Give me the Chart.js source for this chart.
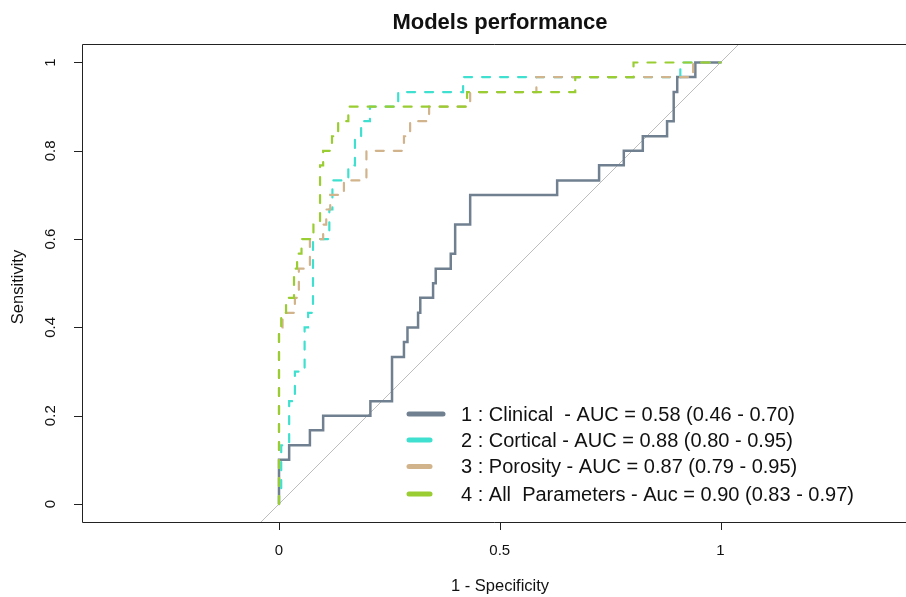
<!DOCTYPE html>
<html>
<head>
<meta charset="utf-8">
<title>Models performance</title>
<script src="https://cdn.jsdelivr.net/npm/chart.js@4.4.1/dist/chart.umd.min.js"></script>
<style>
  html, body { margin: 0; padding: 0; background: #fff; }
  #roc { display: block; }
</style>
</head>
<body>
<canvas id="roc" width="906" height="597"></canvas>
<script>
// ROC corner points (1 - specificity, sensitivity) for each model
const clinicalFpr = [0, 0, 0.023, 0.070, 0.100, 0.207, 0.256, 0.283, 0.291, 0.315, 0.320, 0.349, 0.355, 0.389, 0.399, 0.433, 0.630, 0.725, 0.781, 0.824, 0.879, 0.894, 0.902, 0.943, 1];
const clinicalTpr = [0, 0.100, 0.133, 0.167, 0.200, 0.233, 0.333, 0.367, 0.400, 0.433, 0.467, 0.500, 0.533, 0.567, 0.633, 0.700, 0.733, 0.767, 0.800, 0.833, 0.867, 0.933, 0.967, 1, 1];

const corticalFpr = [0, 0, 0.005, 0.023, 0.036, 0.058, 0.066, 0.077, 0.114, 0.121, 0.157, 0.172, 0.186, 0.206, 0.270, 0.417, 0.909, 1];
const corticalTpr = [0, 0.033, 0.133, 0.233, 0.300, 0.400, 0.433, 0.600, 0.667, 0.733, 0.767, 0.833, 0.867, 0.900, 0.933, 0.967, 1, 1];

const porosityFpr = [0, 0, 0.008, 0.036, 0.045, 0.070, 0.100, 0.107, 0.116, 0.147, 0.198, 0.283, 0.297, 0.340, 0.433, 0.583, 0.938, 1];
const porosityTpr = [0, 0.400, 0.433, 0.467, 0.533, 0.600, 0.633, 0.667, 0.700, 0.733, 0.800, 0.833, 0.867, 0.900, 0.933, 0.967, 1, 1];

const allParamsFpr = [0, 0, 0.005, 0.016, 0.034, 0.041, 0.051, 0.078, 0.093, 0.100, 0.120, 0.134, 0.157, 0.426, 0.671, 0.803, 1];
const allParamsTpr = [0, 0.400, 0.433, 0.467, 0.533, 0.567, 0.600, 0.633, 0.767, 0.800, 0.833, 0.867, 0.900, 0.933, 0.967, 1, 1];

const modelNames = [
  '1 : Clinical  - AUC = 0.58 (0.46 - 0.70)',
  '2 : Cortical - AUC = 0.88 (0.80 - 0.95)',
  '3 : Porosity - AUC = 0.87 (0.79 - 0.95)',
  '4 : All  Parameters - Auc = 0.90 (0.83 - 0.97)'
];
const modelColors = ['#708090', '#40E0D0', '#D2B48C', '#9ACD32'];

const xTicks = [0, 0.5, 1];
const xTickLabels = ['0', '0.5', '1'];
const yTicks = [0, 0.2, 0.4, 0.6, 0.8, 1];
const yTickLabels = ['0', '0.2', '0.4', '0.6', '0.8', '1'];

const titleText = 'Models performance';
const xTitle = '1 - Specificity';
const yTitle = 'Sensitivity';

// plot box in canvas pixels, same scale (px per unit) on both axes
const AREA = { left: 82, top: 44, right: 905, bottom: 522 };
const ZERO_X = 279, ZERO_Y = 504, UNIT = 441.5;
const X_MIN = (AREA.left - ZERO_X) / UNIT;
const X_MAX = (AREA.right - ZERO_X) / UNIT;
const Y_MAX = (ZERO_Y - AREA.top) / UNIT;
const Y_MIN = (ZERO_Y - AREA.bottom) / UNIT;

const FONT = "'Liberation Sans', Arial, sans-serif";

const toPoints = (xs, ys) => xs.map((x, i) => ({ x: x, y: ys[i] }));

const curves = [
  { fpr: clinicalFpr, tpr: clinicalTpr, width: 2.5, dash: [] },
  { fpr: corticalFpr, tpr: corticalTpr, width: 2.2, dash: [8, 10] },
  { fpr: porosityFpr, tpr: porosityTpr, width: 2.2, dash: [8, 10] },
  { fpr: allParamsFpr, tpr: allParamsTpr, width: 2.2, dash: [8, 10] }
];

const datasets = curves.map((c, i) => ({
  data: toPoints(c.fpr, c.tpr),
  showLine: true,
  stepped: true,
  borderColor: modelColors[i],
  borderWidth: c.width,
  borderDash: c.dash,
  borderCapStyle: 'round',
  borderJoinStyle: 'miter',
  pointRadius: 0,
  order: curves.length - i
}));

// chance line y = x across the whole box
datasets.push({
  data: [{ x: X_MIN, y: X_MIN }, { x: X_MAX, y: X_MAX }],
  showLine: true,
  borderColor: '#bdbdbd',
  borderWidth: 1,
  pointRadius: 0,
  clip: 0,
  order: 10
});

// box, axes, titles and legend drawn on top of the curves
const frame = {
  id: 'frame',
  afterDraw(chart) {
    const ctx = chart.ctx;
    const xs = chart.scales.x, ys = chart.scales.y;
    ctx.save();
    ctx.strokeStyle = '#222';
    ctx.lineWidth = 1;
    ctx.beginPath();
    ctx.moveTo(AREA.left + 0.5, AREA.bottom + 0.5);
    ctx.lineTo(AREA.left + 0.5, AREA.top + 0.5);
    ctx.lineTo(906, AREA.top + 0.5);
    ctx.moveTo(AREA.left + 0.5, AREA.bottom + 0.5);
    ctx.lineTo(906, AREA.bottom + 0.5);
    ctx.stroke();

    ctx.fillStyle = '#111';
    ctx.font = '15px ' + FONT;
    // x axis
    ctx.beginPath();
    xTicks.forEach(v => {
      const px = Math.round(xs.getPixelForValue(v)) + 0.5;
      ctx.moveTo(px, AREA.bottom);
      ctx.lineTo(px, AREA.bottom + 8);
    });
    ctx.stroke();
    ctx.textAlign = 'center';
    ctx.textBaseline = 'middle';
    xTicks.forEach((v, i) => ctx.fillText(xTickLabels[i], xs.getPixelForValue(v), 551));

    // y axis, labels turned like R's default
    ctx.beginPath();
    yTicks.forEach(v => {
      const py = Math.round(ys.getPixelForValue(v)) + 0.5;
      ctx.moveTo(AREA.left, py);
      ctx.lineTo(AREA.left - 8, py);
    });
    ctx.stroke();
    yTicks.forEach((v, i) => {
      ctx.save();
      ctx.translate(51, ys.getPixelForValue(v));
      ctx.rotate(-Math.PI / 2);
      ctx.fillText(yTickLabels[i], 0, 0);
      ctx.restore();
    });

    // titles
    ctx.font = '16.5px ' + FONT;
    ctx.fillText(xTitle, 500, 586);
    ctx.save();
    ctx.translate(18, 287);
    ctx.rotate(-Math.PI / 2);
    ctx.fillText(yTitle, 0, 0);
    ctx.restore();
    ctx.font = 'bold 22px ' + FONT;
    ctx.fillText(titleText, 500, 23);

    // legend
    ctx.font = '20px ' + FONT;
    ctx.textAlign = 'left';
    const rowY = [414, 440, 466.5, 494];
    modelNames.forEach((name, i) => {
      ctx.strokeStyle = modelColors[i];
      ctx.lineWidth = 5;
      ctx.lineCap = 'round';
      ctx.beginPath();
      ctx.moveTo(409, rowY[i]);
      ctx.lineTo(i === 0 ? 443 : 430, rowY[i]);
      ctx.stroke();
      ctx.fillStyle = '#111';
      ctx.fillText(name, 461, rowY[i] + 1);
    });
    ctx.restore();
  }
};

new Chart(document.getElementById('roc'), {
  type: 'scatter',
  data: { datasets: datasets },
  options: {
    responsive: false,
    animation: false,
    devicePixelRatio: 1,
    layout: {
      padding: { left: AREA.left, top: AREA.top, right: 906 - AREA.right, bottom: 597 - AREA.bottom }
    },
    scales: {
      x: { type: 'linear', min: X_MIN, max: X_MAX, display: false },
      y: { type: 'linear', min: Y_MIN, max: Y_MAX, display: false }
    },
    plugins: {
      legend: { display: false },
      tooltip: { enabled: false }
    }
  },
  plugins: [frame]
});
</script>
</body>
</html>
